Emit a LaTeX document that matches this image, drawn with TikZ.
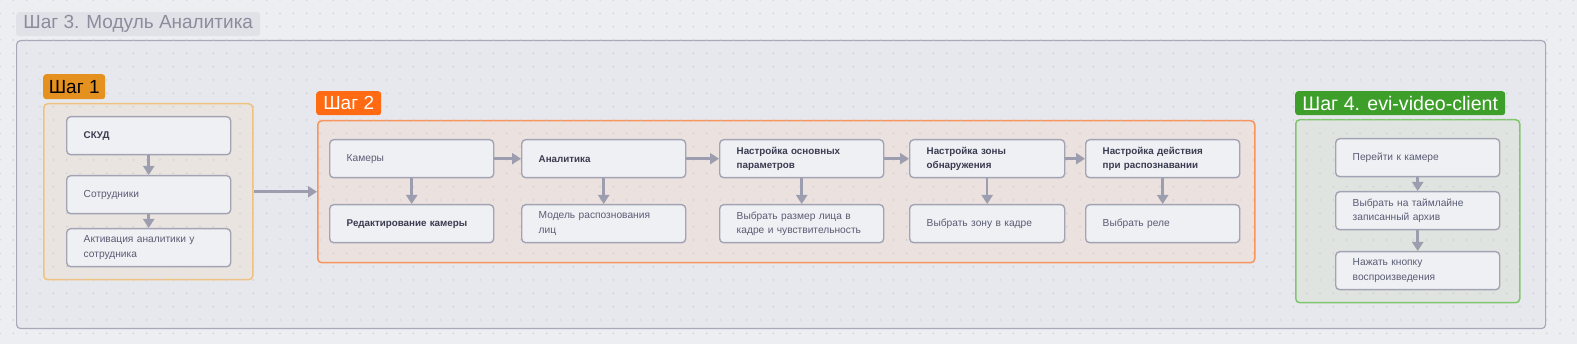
\documentclass[tikz,border=0pt]{standalone}
\usepackage{fontspec}
\setmainfont{Liberation Sans}
\usetikzlibrary{arrows.meta}
\definecolor{bg}{HTML}{EDEEF2}
\definecolor{dotc}{HTML}{C6C7D0}
\definecolor{outerfill}{HTML}{E7E8ED}
\definecolor{outerline}{HTML}{A8A9B8}
\definecolor{titlefill}{HTML}{E1E2E8}
\definecolor{titletext}{HTML}{8B8C9C}
\definecolor{oneline}{HTML}{F0C27F}
\definecolor{onefill}{HTML}{EAE4E1}
\definecolor{onelab}{HTML}{E5911F}
\definecolor{twoline}{HTML}{F7955C}
\definecolor{twofill}{HTML}{EBE1DF}
\definecolor{twolab}{HTML}{FF6A13}
\definecolor{fourline}{HTML}{82C56F}
\definecolor{fourfill}{HTML}{DFE4E0}
\definecolor{fourlab}{HTML}{3D9F2A}
\definecolor{boxfill}{HTML}{EFF0F4}
\definecolor{boxline}{HTML}{A3A4B3}
\definecolor{boxtext}{HTML}{5A5C74}
\definecolor{boldtext}{HTML}{3A3C50}
\definecolor{arrowc}{HTML}{9C9DAE}
\begin{document}
\begin{tikzpicture}[x=1pt,y=-1pt,
  frame/.style={anchor=north west, inner sep=0pt, rounded corners=4pt, line width=1.5pt},
  lab/.style={anchor=north west, inner sep=0pt, rounded corners=3pt, font=\fontsize{19}{21}\selectfont},
  box/.style={draw=boxline, fill=boxfill, line width=1.4pt, rounded corners=4pt, anchor=north west,
    minimum height=38pt, inner xsep=17pt, inner ysep=2pt, align=left, text width=#1-34pt,
    font=\fontsize{10.2}{14.5}\selectfont, text=boxtext},
  box/.default=164pt,
  bbox/.style={box=#1, font=\fontsize{9.8}{14.5}\selectfont\bfseries, text=boldtext},
  bbox/.default=164pt,
  arr/.style={-{Triangle[length=9pt,width=11pt]}, line width=2.5pt, draw=arrowc}]
\fill[bg] (0,0) rectangle (1577,344);
\useasboundingbox (0,0) rectangle (1577,344);
% frames
\node[frame, fill=outerfill, draw=outerline, line width=1.2pt, minimum width=1529pt, minimum height=288pt] (outer) at (16,40) {};
\node[frame, fill=onefill, draw=oneline, minimum width=209pt, minimum height=176pt] (f1) at (43,103) {};
\node[frame, fill=twofill, draw=twoline, minimum width=937pt, minimum height=142pt] (f2) at (317,120) {};
\node[frame, fill=fourfill, draw=fourline, minimum width=224pt, minimum height=183pt] (f4) at (1295,119) {};
% dots
\foreach \i in {0,...,118} {\foreach \j in {0,...,25} {\fill[dotc] (\i*13.3333,\j*13.3333) circle (0.75);}}
% labels
\node[lab, fill=titlefill, text=titletext, minimum width=244pt, minimum height=24pt] (title) at (16,12) {Шаг 3. Модуль Аналитика};
\node[lab, fill=onelab, text=black, minimum width=62pt, minimum height=25pt] (l1) at (43,74) {Шаг 1};
\node[lab, fill=twolab, text=white, minimum width=65pt, minimum height=24pt] (l2) at (316,91) {Шаг 2};
\node[lab, fill=fourlab, text=white, minimum width=210pt, minimum height=24pt, font=\fontsize{19.6}{21}\selectfont] (l4) at (1295,91) {Шаг 4. evi-video-client};
% step 1
\node[bbox] (skud) at (66,116) {СКУД};
\node[box] (sotr) at (66,175) {Сотрудники};
\node[box] (akt) at (66,228) {Активация аналитики у\\сотрудника};
% step 2
\node[box] (kam) at (329,139) {Камеры};
\node[bbox] (red) at (329,204) {Редактирование камеры};
\node[bbox] (anal) at (521,139) {Аналитика};
\node[box] (model) at (521,204) {Модель распознования\\лиц};
\node[bbox] (nosn) at (719,139) {Настройка основных\\параметров};
\node[box] (razm) at (719,204) {Выбрать размер лица в\\кадре и чувствительность};
\node[bbox=155pt] (nzon) at (909,139) {Настройка зоны\\обнаружения};
\node[box=155pt] (zona) at (909,204) {Выбрать зону в кадре};
\node[bbox=154pt] (ndej) at (1085,139) {Настройка действия\\при распознавании};
\node[box=154pt] (rele) at (1085,204) {Выбрать реле};
% step 4
\node[box] (cam4) at (1335,138) {Перейти к камере};
\node[box] (arch) at (1335,191) {Выбрать на таймлайне\\записанный архив};
\node[box] (play) at (1335,251) {Нажать кнопку\\воспроизведения};
% connectors
\draw[arr] (skud) -- (sotr);
\draw[arr] (sotr) -- (akt);
\draw[arr] (f1) -- (f2);
\draw[arr] (kam) -- (red);
\draw[arr] (kam) -- (anal);
\draw[arr] (anal) -- (model);
\draw[arr] (anal) -- (nosn);
\draw[arr] (nosn) -- (razm);
\draw[arr] (nosn) -- (nzon);
\draw[arr] (nzon) -- (zona);
\draw[arr] (nzon) -- (ndej);
\draw[arr] (ndej) -- (rele);
\draw[arr] (cam4) -- (arch);
\draw[arr] (arch) -- (play);
\end{tikzpicture}
\end{document}
